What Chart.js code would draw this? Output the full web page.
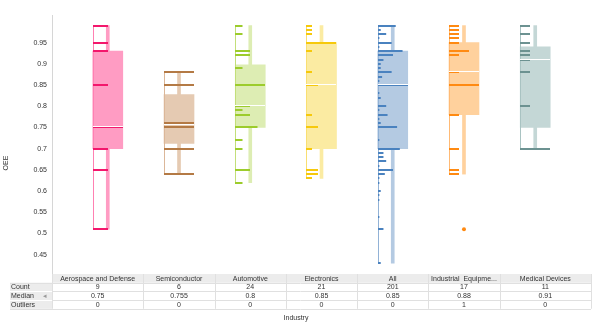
<!DOCTYPE html>
<html lang="en">
<head>
<meta charset="UTF-8" />
<title>OEE by Industry</title>
<script src="https://cdn.jsdelivr.net/npm/chart.js"></script>
<style>
  body { margin: 0; background: #fff; }
  #wrap { width: 595px; height: 335px; }
</style>
</head>
<body>
<div id="wrap"><canvas id="oeeChart" width="595" height="335"></canvas></div>
<script>
// categories
const industries = ['Aerospace and Defense', 'Semiconductor', 'Automotive', 'Electronics', 'All', 'Industrial  Equipme...', 'Medical Devices'];

// individual OEE values (one tick per distinct value) and how often each occurs
const aeroVals = [0.99, 0.95, 0.93, 0.85, 0.75, 0.70, 0.65, 0.51];
const aeroCnt  = [1, 1, 1, 1, 2, 1, 1, 1];
const semiVals = [0.88, 0.85, 0.76, 0.75, 0.70, 0.64];
const semiCnt  = [1, 1, 1, 1, 1, 1];
const autoVals = [0.99, 0.97, 0.93, 0.92, 0.89, 0.85, 0.80, 0.79, 0.78, 0.75, 0.72, 0.70, 0.65, 0.62];
const autoCnt  = [1, 1, 2, 2, 1, 4, 2, 1, 2, 3, 1, 1, 2, 1];
const elecVals = [0.99, 0.98, 0.97, 0.95, 0.93, 0.88, 0.85, 0.78, 0.75, 0.70, 0.65, 0.64, 0.63];
const elecCnt  = [1, 1, 1, 5, 1, 1, 2, 1, 2, 1, 2, 2, 1];
const allVals  = [0.99, 0.98, 0.97, 0.96, 0.95, 0.94, 0.93, 0.92, 0.91, 0.90, 0.89, 0.88, 0.87, 0.86, 0.85,
                  0.83, 0.82, 0.80, 0.79, 0.78, 0.77, 0.76, 0.75, 0.72, 0.70, 0.69, 0.68, 0.67, 0.66, 0.65,
                  0.64, 0.63, 0.62, 0.60, 0.59, 0.58, 0.54, 0.51, 0.43];
const allCnt   = [13, 2, 6, 1, 10, 1, 18, 11, 4, 2, 2, 10, 3, 1, 22,
                  1, 2, 6, 1, 7, 1, 2, 14, 1, 16, 4, 4, 6, 1, 11,
                  5, 1, 1, 2, 1, 1, 1, 4, 2];
const indVals  = [0.99, 0.98, 0.97, 0.96, 0.95, 0.93, 0.92, 0.88, 0.85, 0.78, 0.70, 0.65, 0.64];
const indCnt   = [1, 1, 1, 1, 1, 2, 1, 1, 3, 1, 1, 1, 1];
const medVals  = [0.99, 0.97, 0.95, 0.93, 0.92, 0.91, 0.88, 0.80, 0.70];
const medCnt   = [1, 1, 1, 1, 1, 1, 1, 1, 3];

// box plot summary
const q1        = [0.70, 0.7125, 0.75, 0.70, 0.70, 0.78, 0.75];
const medians   = [0.75, 0.755, 0.8, 0.85, 0.85, 0.88, 0.91];
const q3        = [0.93, 0.8275, 0.8975, 0.95, 0.93, 0.95, 0.94];
const whiskerLo = [0.51, 0.64, 0.62, 0.63, 0.43, 0.64, 0.70];
const whiskerHi = [0.99, 0.88, 0.99, 0.99, 0.99, 0.99, 0.99];
const outlierVals = [[], [], [], [], [], [0.51], []];

// table rows
const counts   = [9, 6, 24, 21, 201, 17, 11];
const outliers = [0, 0, 0, 0, 0, 1, 0];

// y axis ticks
const yTickLabels = ['0.45', '0.5', '0.55', '0.6', '0.65', '0.7', '0.75', '0.8', '0.85', '0.9', '0.95'];

const tickValues = [aeroVals, semiVals, autoVals, elecVals, allVals, indVals, medVals];
const tickCounts = [aeroCnt, semiCnt, autoCnt, elecCnt, allCnt, indCnt, medCnt];

// colours
const boxColors   = ['#ff9cc3', '#e5cab2', '#ddedb3', '#fbeba2', '#b4cae2', '#ffd19d', '#c4d7d6'];
const stripColors = ['#ff80b2', '#dbb799', '#c3df7a', '#f9df72', '#92b2d6', '#ffba75', '#a9c3c2'];
const tickColors  = ['#f3176c', '#b47a45', '#9ccc2c', '#f6c90c', '#4a82bf', '#ff8a12', '#6c9291'];

const BOX_W = 30;
const FONT = "'Liberation Sans', Arial, sans-serif";
const TEXT = '#333';

Chart.defaults.font.family = FONT;
Chart.defaults.font.size = 7;
Chart.defaults.color = TEXT;

// tick strips, strip edge and median line, placed with the chart scales
const stripPlugin = {
  id: 'strips',
  afterDatasetsDraw(chart) {
    const { ctx, scales: { x, y } } = chart;
    ctx.save();
    industries.forEach((name, i) => {
      const left = Math.round(x.getPixelForValue(i) - BOX_W / 2);
      const top = Math.round(y.getPixelForValue(whiskerHi[i]));
      const bot = Math.round(y.getPixelForValue(whiskerLo[i]));
      ctx.fillStyle = stripColors[i];
      ctx.fillRect(left, top, 1, bot - top);

      const maxC = Math.max(...tickCounts[i]);
      ctx.fillStyle = tickColors[i];
      tickValues[i].forEach((v, j) => {
        const len = Math.max(1, BOX_W * tickCounts[i][j] / maxC);
        ctx.fillRect(left, Math.round(y.getPixelForValue(v)) - 1, len, 2);
      });

      ctx.fillStyle = '#ffffff';
      ctx.fillRect(left, Math.round(y.getPixelForValue(medians[i])) - 1, BOX_W, 1);
    });
    ctx.restore();
  }
};

// summary table under the plot, columns split halfway between categories
const tablePlugin = {
  id: 'statsTable',
  afterDraw(chart) {
    const { ctx, chartArea, scales: { x } } = chart;
    const edges = [chartArea.left];
    for (let i = 0; i < industries.length - 1; i++) edges.push(x.getPixelForValue(i + 0.5));
    edges.push(chartArea.right);

    const top = 274, rowH = 8.7, labelX = 10;
    const rows = [['Count', counts], ['Median', medians], ['Outliers', outliers]];
    ctx.save();

    // axis line continues to the table
    ctx.fillStyle = '#d6d6d6';
    ctx.fillRect(chartArea.left, chartArea.bottom, 1, top - chartArea.bottom);

    // header
    ctx.fillStyle = '#ececec';
    ctx.fillRect(edges[0], top, edges[edges.length - 1] - edges[0], rowH);
    // row labels
    rows.forEach((r, k) => {
      ctx.fillStyle = '#ececec';
      ctx.fillRect(labelX, top + rowH * (k + 1), edges[0] - labelX, rowH);
    });
    // grid lines
    ctx.strokeStyle = '#e0e0e0';
    ctx.lineWidth = 1;
    ctx.beginPath();
    for (let k = 1; k <= rows.length + 1; k++) {
      const yy = Math.round(top + rowH * k) + 0.5;
      ctx.moveTo(labelX, yy);
      ctx.lineTo(edges[edges.length - 1], yy);
    }
    edges.forEach(e => {
      const xx = Math.round(e) + 0.5;
      ctx.moveTo(xx, top);
      ctx.lineTo(xx, top + rowH * (rows.length + 1));
    });
    ctx.stroke();
    ctx.strokeStyle = '#ffffff';
    ctx.beginPath();
    for (let k = 2; k <= rows.length; k++) {
      const yy = Math.round(top + rowH * k) + 0.5;
      ctx.moveTo(labelX, yy);
      ctx.lineTo(edges[0], yy);
    }
    ctx.stroke();

    ctx.font = '7px ' + FONT;
    ctx.fillStyle = TEXT;
    ctx.textBaseline = 'middle';
    ctx.textAlign = 'center';
    industries.forEach((name, i) => {
      const cx = (edges[i] + edges[i + 1]) / 2;
      ctx.fillText(name, cx, top + rowH * 0.5 + 0.5);
      rows.forEach((r, k) => {
        ctx.fillText(String(r[1][i]), cx, top + rowH * (k + 1.5) + 0.5);
      });
    });
    ctx.textAlign = 'left';
    rows.forEach((r, k) => {
      ctx.fillText(r[0], labelX + 1, top + rowH * (k + 1.5) + 0.5);
    });
    ctx.fillStyle = '#999';
    ctx.fillText('\u25C2', 43, top + rowH * 2.5 + 0.5);

    // axis titles
    ctx.fillStyle = TEXT;
    ctx.textAlign = 'center';
    ctx.fillText('Industry', 296, 318);
    ctx.translate(6, 163);
    ctx.rotate(-Math.PI / 2);
    ctx.fillText('OEE', 0, 0);
    ctx.restore();
  }
};

const ctx = document.getElementById('oeeChart').getContext('2d');
new Chart(ctx, {
  type: 'bar',
  data: {
    datasets: [
      {
        label: 'Box',
        data: industries.map((n, i) => ({ x: i, y: [q1[i], q3[i]] })),
        backgroundColor: boxColors,
        borderWidth: 0,
        barThickness: BOX_W,
        maxBarThickness: BOX_W,
        grouped: false,
        order: 2
      },
      {
        label: 'Whisker',
        data: industries.map((n, i) => ({ x: i, y: [whiskerLo[i], whiskerHi[i]] })),
        backgroundColor: boxColors,
        borderWidth: 0,
        barThickness: 3,
        maxBarThickness: 3,
        grouped: false,
        order: 3
      },
      {
        type: 'scatter',
        label: 'Outliers',
        data: outlierVals.flatMap((vals, i) => vals.map(v => ({ x: i, y: v }))),
        backgroundColor: outlierVals.flatMap((vals, i) => vals.map(() => tickColors[i])),
        borderWidth: 0,
        pointRadius: 2,
        order: 1
      }
    ]
  },
  options: {
    responsive: false,
    animation: false,
    layout: { padding: { left: 0, right: 2, top: 15, bottom: 65 } },
    plugins: { legend: { display: false }, tooltip: { enabled: false } },
    scales: {
      x: {
        type: 'linear',
        display: false,
        offset: false,
        min: -0.783,
        max: 6.783
      },
      y: {
        min: 0.414,
        max: 1.015,
        beginAtZero: false,
        grid: { display: false, drawTicks: false },
        border: { display: true, color: '#d6d6d6', width: 1 },
        afterBuildTicks: s => { s.ticks = yTickLabels.map(t => ({ value: parseFloat(t) })); },
        afterFit: s => { s.width = 52; },
        ticks: {
          padding: 5,
          color: TEXT,
          font: { size: 7 },
          callback: (v, idx) => yTickLabels[idx]
        }
      }
    }
  },
  plugins: [stripPlugin, tablePlugin]
});
</script>
</body>
</html>
